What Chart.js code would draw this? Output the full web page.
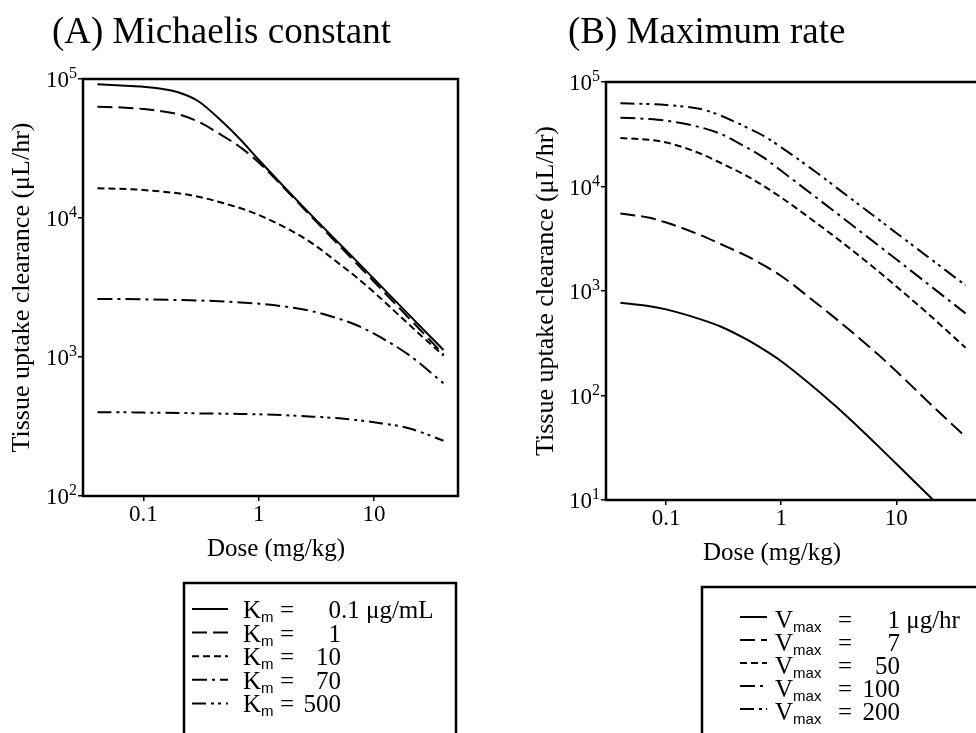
<!DOCTYPE html>
<html>
<head>
<meta charset="utf-8">
<script src="https://cdn.jsdelivr.net/npm/chart.js@4.4.1/dist/chart.umd.min.js"></script>
<style>
  html, body { margin: 0; padding: 0; background: #fff; }
  #page { position: relative; width: 976px; height: 733px; overflow: hidden; background: #fff; }
  #wrapA { position: absolute; left: 0; top: 0; width: 488px; height: 733px; }
  #wrapB { position: absolute; left: 488px; top: 0; width: 540px; height: 733px; }
</style>
</head>
<body>
<div id="page">
  <div id="wrapA"><canvas id="chartA" width="488" height="733"></canvas></div>
  <div id="wrapB"><canvas id="chartB" width="540" height="733"></canvas></div>
</div>
<script>
const doses = [0.04, 0.07, 0.1, 0.2, 0.3, 0.5, 0.7, 1, 2, 3, 5, 7, 10, 20, 40];

const xTickValues = [0.1, 1, 10];
const xTickLabels = ['0.1', '1', '10'];

// (A) Michaelis constant -- clearance in uL/hr
const kmValues = ['0.1', '1', '10', '70', '500'];
const clKm01 = [91500, 89500, 88000, 80350, 69200, 48000, 36400, 26240, 14240, 10060, 6536, 4932, 3641, 2016, 1123];
const clKm1 = [63200, 62200, 60800, 55700, 49300, 38500, 32100, 25100, 14000, 9830, 6320, 4736, 3480, 1910, 1045];
const clKm10 = [16350, 16170, 15900, 15050, 14240, 12750, 11740, 10510, 7943, 6457, 4677, 3758, 2917, 1718, 1022];
const clKm70 = [2610, 2610, 2600, 2570, 2550, 2510, 2470, 2420, 2260, 2120, 1880, 1700, 1470, 1035, 647];
const clKm500 = [400, 400, 398, 396, 393, 391, 389, 387, 379, 372, 362, 352, 339, 307, 250];
const yTicksA = [100, 1000, 10000, 100000];
const yExpA = ['2', '3', '4', '5'];

// (B) Maximum rate
const vmaxValues = ['1', '7', '50', '100', '200'];
const clV1 = [773, 718, 667, 535, 455, 344, 276, 213, 115.6, 78.3, 46.5, 32.6, 22.2, 10.5, 5.0];
const clV7 = [5510, 5047, 4519, 3416, 2801, 2165, 1770, 1392, 773, 541, 338, 245, 171, 82, 40.2];
const clV50 = [29060, 28010, 26410, 20580, 16740, 12650, 10150, 7846, 4519, 3228, 2080, 1538, 1107, 573, 286];
const clV100 = [45510, 44200, 42600, 36770, 31740, 23640, 18970, 14130, 7897, 5607, 3631, 2727, 2010, 1109, 611];
const clV200 = [62450, 61530, 60200, 55110, 47570, 36800, 30590, 23710, 13760, 9817, 6411, 4842, 3595, 2017, 1132];
const yTicksB = [10, 100, 1000, 10000, 100000];
const yExpB = ['1', '2', '3', '4', '5'];

const dashes = [[], [15, 6], [7, 4], [15, 5, 3, 5], [14, 5, 3, 4, 3, 5]];

const SERIF = "'Liberation Serif', 'Times New Roman', serif";
Chart.defaults.font.family = SERIF;
Chart.defaults.color = '#000';

function series(values, label, i) {
  return {
    label: label,
    data: doses.map((d, k) => ({ x: d, y: values[k] })),
    borderColor: '#000',
    borderWidth: 2,
    borderDash: dashes[i],
    pointRadius: 0,
    fill: false,
    cubicInterpolationMode: 'monotone'
  };
}

// title, frame, power-of-ten tick labels, x title and the boxed legend
const panelDecor = {
  id: 'panelDecor',
  afterDraw(chart, args, o) {
    const ctx = chart.ctx;
    const a = chart.chartArea;
    const ys = chart.scales.y;
    ctx.save();
    ctx.fillStyle = '#000';
    ctx.strokeStyle = '#000';
    ctx.textAlign = 'left';
    ctx.textBaseline = 'alphabetic';
    ctx.font = '37px ' + SERIF;
    ctx.fillText(o.title, o.titleX, o.titleY);

    ctx.lineWidth = 2.5;
    ctx.strokeRect(a.left, a.top, a.right - a.left, a.bottom - a.top);

    // 10^n labels
    o.yTicks.forEach((v, i) => {
      const y = ys.getPixelForValue(v);
      const right = a.left - 6;
      ctx.font = '16px ' + SERIF;
      const ew = ctx.measureText(o.yExp[i]).width;
      ctx.fillText(o.yExp[i], right - ew, y - 1);
      ctx.font = '23px ' + SERIF;
      const bw = ctx.measureText('10').width;
      ctx.fillText('10', right - ew - bw, y + 8);
    });

    ctx.font = '25px ' + SERIF;
    ctx.textAlign = 'center';
    ctx.fillText('Dose (mg/kg)', o.xTitleX, o.xTitleY);
    ctx.textAlign = 'left';

    const lg = o.legend;
    ctx.strokeRect(lg.left, lg.top, lg.width, lg.height);
    chart.data.datasets.forEach((ds, i) => {
      const base = lg.firstBaseline + i * lg.rowStep;
      ctx.save();
      ctx.lineWidth = 2;
      ctx.setLineDash(ds.borderDash);
      ctx.beginPath();
      ctx.moveTo(lg.sampleX0, base - lg.sampleRise);
      ctx.lineTo(lg.sampleX1, base - lg.sampleRise);
      ctx.stroke();
      ctx.restore();

      ctx.font = '25px ' + SERIF;
      ctx.fillText(lg.symbol, lg.symbolX, base);
      const sw = ctx.measureText(lg.symbol).width;
      ctx.font = "15px 'Liberation Sans', Arial, sans-serif";
      ctx.fillText(lg.sub, lg.symbolX + sw, base + 4);
      ctx.font = '25px ' + SERIF;
      ctx.fillText('=', lg.eqX, base);
      const v = lg.values[i];
      const intW = ctx.measureText(v.split('.')[0]).width;
      const text = i === 0 ? v + ' ' + lg.unit : v;
      ctx.fillText(text, lg.valueRight - intW, base);
    });
    ctx.restore();
  }
};

function makeChart(id, datasets, cfg) {
  return new Chart(document.getElementById(id), {
    type: 'line',
    data: { datasets: datasets },
    plugins: [panelDecor],
    options: {
      responsive: false,
      animation: false,
      layout: { padding: cfg.padding },
      plugins: {
        legend: { display: false },
        tooltip: { enabled: false },
        panelDecor: cfg.decor
      },
      scales: {
        x: {
          type: 'logarithmic',
          min: 0.03,
          max: 53.4,
          afterBuildTicks: s => { s.ticks = xTickValues.map(v => ({ value: v })); },
          afterFit: s => { s.height = 70; },
          ticks: {
            font: { size: 23 },
            padding: 0,
            maxRotation: 0,
            autoSkip: false,
            callback: (v, i) => xTickLabels[i]
          },
          grid: { drawOnChartArea: false, drawTicks: true, tickLength: 5, color: '#000', lineWidth: 1.5 },
          border: { display: false },
          title: { display: false }
        },
        y: {
          type: 'logarithmic',
          min: cfg.decor.yTicks[0],
          max: cfg.decor.yTicks[cfg.decor.yTicks.length - 1],
          afterBuildTicks: s => { s.ticks = cfg.decor.yTicks.map(v => ({ value: v })); },
          afterFit: s => { s.width = 83; },
          ticks: { display: false },
          grid: { drawOnChartArea: false, drawTicks: true, tickLength: 5, color: '#000', lineWidth: 1.5 },
          border: { display: false },
          title: { display: true, text: 'Tissue uptake clearance (μL/hr)', font: { size: 26 }, padding: { top: cfg.yTitlePad, bottom: 0 } }
        }
      }
    }
  });
}

makeChart('chartA', [
  series(clKm01, 'Km = 0.1 μg/mL', 0),
  series(clKm1, 'Km = 1', 1),
  series(clKm10, 'Km = 10', 2),
  series(clKm70, 'Km = 70', 3),
  series(clKm500, 'Km = 500', 4)
], {
  padding: { left: 0, top: 79, right: 30, bottom: 167 },
  yTitlePad: 7,
  decor: {
    title: '(A) Michaelis constant', titleX: 52, titleY: 43,
    yTicks: yTicksA, yExp: yExpA,
    xTitleX: 276, xTitleY: 556,
    legend: {
      left: 184, top: 583, width: 272, height: 200,
      firstBaseline: 618, rowStep: 23.6, sampleRise: 9,
      sampleX0: 192, sampleX1: 228, symbolX: 243, symbol: 'K', sub: 'm',
      eqX: 280, valueRight: 341, values: kmValues, unit: 'μg/mL'
    }
  }
});

makeChart('chartB', [
  series(clV1, 'Vmax = 1 μg/hr', 0),
  series(clV7, 'Vmax = 7', 1),
  series(clV50, 'Vmax = 50', 2),
  series(clV100, 'Vmax = 100', 3),
  series(clV200, 'Vmax = 200', 4)
], {
  padding: { left: 35, top: 82, right: 48, bottom: 163 },
  yTitlePad: 8,
  decor: {
    title: '(B) Maximum rate', titleX: 80, titleY: 43,
    yTicks: yTicksB, yExp: yExpB,
    xTitleX: 284, xTitleY: 560,
    legend: {
      left: 214, top: 587, width: 400, height: 200,
      firstBaseline: 628, rowStep: 23, sampleRise: 11,
      sampleX0: 252, sampleX1: 279, symbolX: 287, symbol: 'V', sub: 'max',
      eqX: 350, valueRight: 412, values: vmaxValues, unit: 'μg/hr'
    }
  }
});
</script>
</body>
</html>
